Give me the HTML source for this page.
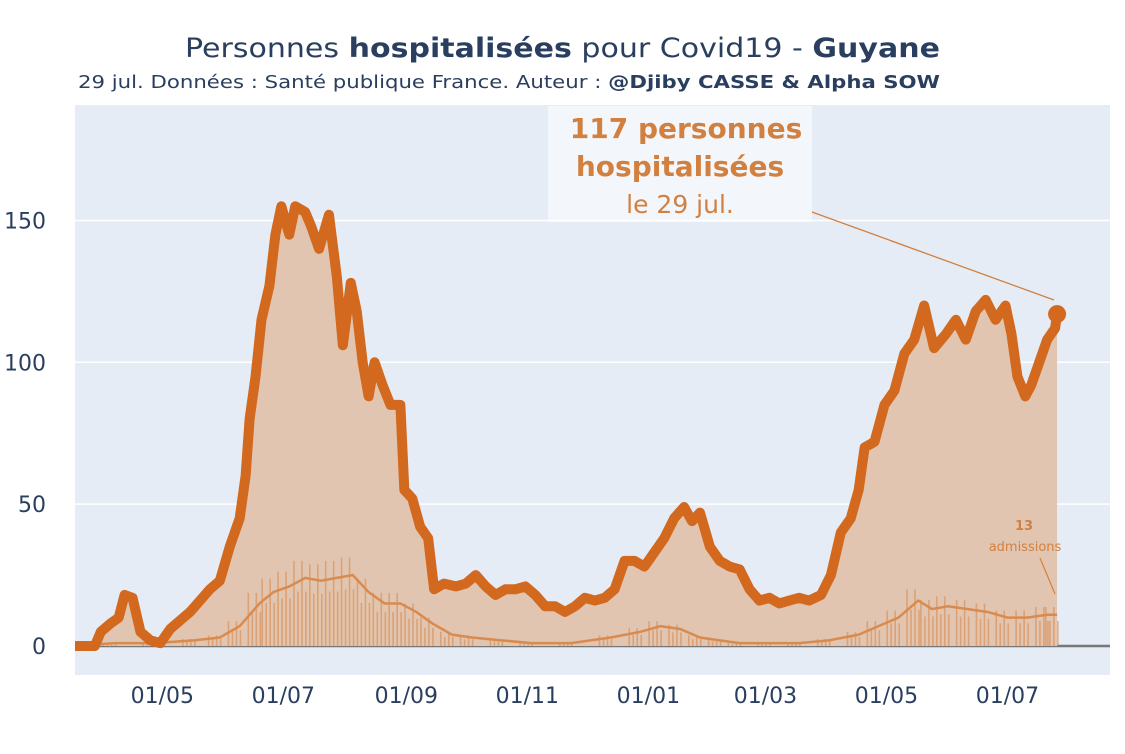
<!DOCTYPE html>
<html><head><meta charset="utf-8">
<style>
body{margin:0;background:#fff;font-family:"DejaVu Sans",sans-serif;}
svg text{font-family:"DejaVu Sans",sans-serif;}
</style></head>
<body>
<svg id="chart" width="1125" height="750" xmlns="http://www.w3.org/2000/svg">
<rect width="1125" height="750" fill="#fff"/>
<rect x="75" y="105" width="1035" height="570" fill="#e5ecf6"/>
<g id="grid"></g>
<g id="marks"></g>
<g id="axes"></g>
<text x="185" y="57" font-size="27" fill="#2a3f5f" textLength="755" lengthAdjust="spacingAndGlyphs">Personnes <tspan font-weight="bold">hospitalisées</tspan> pour Covid19 - <tspan font-weight="bold">Guyane</tspan></text>
<text x="78" y="88" font-size="18" fill="#2a3f5f" textLength="862" lengthAdjust="spacingAndGlyphs">29 jul. Données : Santé publique France. Auteur : <tspan font-weight="bold">@Djiby CASSE &amp; Alpha SOW</tspan></text>
<rect x="548" y="106" width="264" height="116" fill="rgba(255,255,255,0.55)"/>
<text x="686" y="138" text-anchor="middle" font-size="28" font-weight="bold" fill="#d2803f">117 personnes</text>
<text x="680" y="176" text-anchor="middle" font-size="28" font-weight="bold" fill="#d2803f">hospitalisées</text>
<text x="680" y="213" text-anchor="middle" font-size="25" fill="#d2803f">le 29 jul.</text>
<line x1="812" y1="212" x2="1054" y2="300" stroke="#d2803f" stroke-width="1.3"/>
<text x="1024" y="530" text-anchor="middle" font-size="13" font-weight="bold" fill="#d2803f">13</text>
<text x="1025" y="551" text-anchor="middle" font-size="13" fill="#d2803f">admissions</text>
<line x1="1040" y1="558" x2="1055" y2="594" stroke="#d2803f" stroke-width="1.2"/>
</svg>
<script>
const hospDays=[0,10,13,18,22,25,29,33,38,43,45,48,53,58,63,68,73,78,83,86,88,91,94,98,101,104,108,111,116,119,123,128,132,135,139,142,145,148,151,155,159,164,166,170,174,178,181,186,192,197,202,207,212,217,222,227,232,237,242,247,252,257,262,267,272,277,282,287,292,297,302,307,311,315,320,325,330,335,340,345,350,355,360,365,370,376,381,386,391,395,398,403,408,413,418,423,428,433,439,444,449,454,459,464,469,472,475,479,482,486,490,494,495];
const hospValues=[0,0,5,8,10,18,17,5,2,1,3,6,9,12,16,20,23,35,45,60,80,95,115,127,145,155,145,155,153,148,140,152,130,106,128,118,100,88,100,92,85,85,55,52,42,38,20,22,21,22,25,21,18,20,20,21,18,14,14,12,14,17,16,17,20,30,30,28,33,38,45,49,44,47,35,30,28,27,20,16,17,15,16,17,16,18,25,40,45,55,70,72,85,90,103,108,120,105,110,115,108,118,122,115,120,110,95,88,92,100,108,112,117];
const admDays=[0,20,40,60,73,83,93,100,108,116,124,132,140,148,156,164,172,180,190,200,215,230,250,270,285,295,305,315,325,335,350,365,380,395,405,415,425,432,440,450,460,470,480,490,495];
const admValues=[0,1,1,2,3,7,15,19,21,24,23,24,25,19,15,15,12,8,4,3,2,1,1,3,5,7,6,3,2,1,1,1,2,4,7,10,16,13,14,13,12,10,10,11,11];
const yTicks=[0,50,100,150];
const xTickLabels=["01/05","01/07","01/09","01/11","01/01","01/03","01/05","01/07"];
const xTickDays=[44,105,167,228,289,348,409,470];

const NS="http://www.w3.org/2000/svg";
const X=d=>75+d*1.984, Y=v=>646-v*2.837;
function mk(t,a,p){const e=document.createElementNS(NS,t);for(const k in a)e.setAttribute(k,a[k]);p.appendChild(e);return e;}
const grid=document.getElementById('grid'),marks=document.getElementById('marks'),axes=document.getElementById('axes');
yTicks.forEach(v=>{
 if(v>0){const g=mk('line',{x1:75,x2:1110,y1:Y(v),y2:Y(v),stroke:'#fff','stroke-width':1.5},grid);
 
 }
 const t=mk('text',{x:46,y:Y(v)+8,'text-anchor':'end','font-size':22,fill:'#2a3f5f'},axes);t.textContent=v;
 
 
});
xTickLabels.forEach((s,i)=>{
 const t=mk('text',{x:X(xTickDays[i]),y:703,'text-anchor':'middle','font-size':22,fill:'#2a3f5f'},axes);t.textContent=s;
 
 
});
const zl=mk('line',{x1:75,x2:1110,y1:Y(0),y2:Y(0),stroke:'#777','stroke-width':2.5},grid);


let pts=hospDays.map((d,i)=>X(d)+','+Y(hospValues[i]));
const area=mk('polygon',{points:X(0)+','+Y(0)+' '+pts.join(' ')+' '+X(hospDays[hospDays.length-1])+','+Y(0),fill:'#e2c5b0'},marks);


admDays.forEach((d,i)=>{
 for(let k=0;k<4;k++){
  const v=admValues[i]*(k%2?1.25:0.8);
  const b=mk('rect',{x:X(d)-k*4,y:Y(v),width:1.6,height:Y(0)-Y(v),fill:'#d98a4e',opacity:0.6},marks);
  
  
 }
});
const al=mk('polyline',{points:admDays.map((d,i)=>X(d)+','+Y(admValues[i])).join(' '),fill:'none',stroke:'#d98a4e','stroke-width':2.5},marks);


const hl=mk('polyline',{points:pts.join(' '),fill:'none',stroke:'#d2691e','stroke-width':10,'stroke-linejoin':'round'},marks);


const last=hospDays.length-1;
const dot=mk('circle',{cx:X(hospDays[last]),cy:Y(hospValues[last]),r:9,fill:'#d2691e'},marks);


</script>
</body></html>
